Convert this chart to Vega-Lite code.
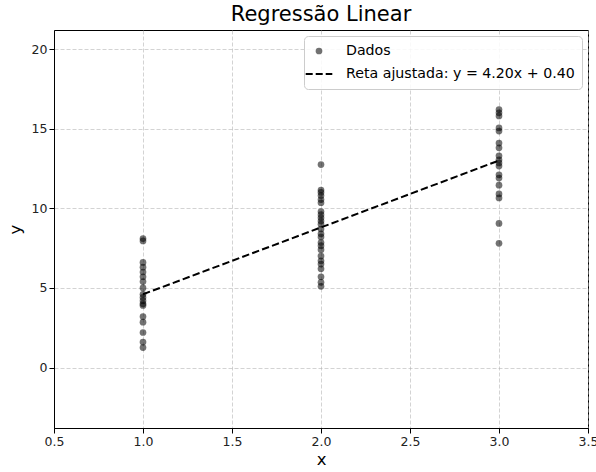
{
  "$schema": "https://vega.github.io/schema/vega-lite/v6.json",
  "autosize": {"type": "none"},
  "width": 534,
  "height": 398,
  "padding": {"left": 54, "top": 30, "right": 8, "bottom": 44},
  "config": {
    "font": "DejaVu Sans",
    "view": {"stroke": "#000000", "strokeWidth": 1},
    "axis": {
      "labelFont": "DejaVu Sans", "labelFontSize": 12.5, "labelColor": "#222",
      "titleFont": "DejaVu Sans", "titleFontSize": 16.5, "titleFontWeight": "normal", "titleColor": "#000",
      "domainColor": "#000", "tickColor": "#000", "tickSize": 5,
      "gridColor": "#b0b0b0", "gridOpacity": 0.7, "gridDash": [4, 2], "gridWidth": 0.8
    }
  },
  "title": {"text": "Regressão Linear", "font": "DejaVu Sans", "fontSize": 21, "fontWeight": "normal", "color": "#000", "offset": 5},
  "layer": [
    {
      "data": {"values": [
        {"x": 1, "y": 8.1, "serie": "Dados"}, {"x": 1, "y": 7.95, "serie": "Dados"},
        {"x": 1, "y": 6.6, "serie": "Dados"}, {"x": 1, "y": 6.3, "serie": "Dados"},
        {"x": 1, "y": 6.0, "serie": "Dados"}, {"x": 1, "y": 5.7, "serie": "Dados"},
        {"x": 1, "y": 5.4, "serie": "Dados"}, {"x": 1, "y": 5.0, "serie": "Dados"},
        {"x": 1, "y": 4.6, "serie": "Dados"}, {"x": 1, "y": 4.4, "serie": "Dados"},
        {"x": 1, "y": 4.2, "serie": "Dados"}, {"x": 1, "y": 4.0, "serie": "Dados"},
        {"x": 1, "y": 3.9, "serie": "Dados"}, {"x": 1, "y": 3.2, "serie": "Dados"},
        {"x": 1, "y": 2.85, "serie": "Dados"}, {"x": 1, "y": 2.2, "serie": "Dados"},
        {"x": 1, "y": 1.6, "serie": "Dados"}, {"x": 1, "y": 1.25, "serie": "Dados"},
        {"x": 2, "y": 12.75, "serie": "Dados"}, {"x": 2, "y": 11.15, "serie": "Dados"},
        {"x": 2, "y": 11.0, "serie": "Dados"}, {"x": 2, "y": 10.8, "serie": "Dados"},
        {"x": 2, "y": 10.55, "serie": "Dados"}, {"x": 2, "y": 10.35, "serie": "Dados"},
        {"x": 2, "y": 9.8, "serie": "Dados"}, {"x": 2, "y": 9.6, "serie": "Dados"},
        {"x": 2, "y": 9.4, "serie": "Dados"}, {"x": 2, "y": 9.2, "serie": "Dados"},
        {"x": 2, "y": 9.0, "serie": "Dados"}, {"x": 2, "y": 8.7, "serie": "Dados"},
        {"x": 2, "y": 8.4, "serie": "Dados"}, {"x": 2, "y": 8.2, "serie": "Dados"},
        {"x": 2, "y": 7.85, "serie": "Dados"}, {"x": 2, "y": 7.65, "serie": "Dados"},
        {"x": 2, "y": 7.4, "serie": "Dados"}, {"x": 2, "y": 7.0, "serie": "Dados"},
        {"x": 2, "y": 6.7, "serie": "Dados"}, {"x": 2, "y": 6.5, "serie": "Dados"},
        {"x": 2, "y": 6.2, "serie": "Dados"}, {"x": 2, "y": 5.7, "serie": "Dados"},
        {"x": 2, "y": 5.35, "serie": "Dados"}, {"x": 2, "y": 5.1, "serie": "Dados"},
        {"x": 3, "y": 16.2, "serie": "Dados"}, {"x": 3, "y": 16.0, "serie": "Dados"},
        {"x": 3, "y": 15.8, "serie": "Dados"}, {"x": 3, "y": 15.05, "serie": "Dados"},
        {"x": 3, "y": 14.85, "serie": "Dados"}, {"x": 3, "y": 14.1, "serie": "Dados"},
        {"x": 3, "y": 13.8, "serie": "Dados"}, {"x": 3, "y": 13.3, "serie": "Dados"},
        {"x": 3, "y": 13.05, "serie": "Dados"}, {"x": 3, "y": 12.85, "serie": "Dados"},
        {"x": 3, "y": 12.65, "serie": "Dados"}, {"x": 3, "y": 12.1, "serie": "Dados"},
        {"x": 3, "y": 11.9, "serie": "Dados"}, {"x": 3, "y": 11.45, "serie": "Dados"},
        {"x": 3, "y": 10.9, "serie": "Dados"}, {"x": 3, "y": 10.65, "serie": "Dados"},
        {"x": 3, "y": 9.05, "serie": "Dados"}, {"x": 3, "y": 7.8, "serie": "Dados"}
      ]},
      "mark": {"type": "point", "filled": true, "color": "#000000", "opacity": 0.55, "size": 45},
      "encoding": {
        "x": {"field": "x", "type": "quantitative", "title": "x",
              "scale": {"domain": [0.5, 3.5], "nice": false, "zero": false},
              "axis": {"values": [0.5, 1.0, 1.5, 2.0, 2.5, 3.0, 3.5], "format": ".1f", "labelFlush": false, "titlePadding": 4}},
        "y": {"field": "y", "type": "quantitative", "title": "y",
              "scale": {"domain": [-3.8, 21.2], "nice": false, "zero": false},
              "axis": {"values": [0, 5, 10, 15, 20], "format": "d", "titlePadding": 8}},
        "shape": {"field": "serie", "type": "nominal",
                  "scale": {"domain": ["Dados", "Reta ajustada: y = 4.20x + 0.40"], "range": ["circle", "M-2.8,0M-1.9,0H1.9"]},
                  "legend": {
                    "title": null, "orient": "top-right", "offset": 6,
                    "labelFont": "DejaVu Sans", "labelFontSize": 14.2, "labelColor": "#000", "labelLimit": 400,
                    "symbolSize": 196, "rowPadding": 7, "padding": 7, "labelOffset": 19,
                    "strokeColor": "#cccccc", "fillColor": "rgba(255,255,255,0.85)", "cornerRadius": 4,
                    "encoding": {"symbols": {
                      "fill": {"value": {"expr": "datum.value === 'Dados' ? '#000000' : 'transparent'"}},
                      "stroke": {"value": {"expr": "datum.value === 'Dados' ? 'transparent' : '#000000'"}},
                      "strokeWidth": {"value": 2},
                      "strokeDash": {"value": {"expr": "datum.value === 'Dados' ? [1, 0] : [7, 3]"}},
                      "opacity": {"value": {"expr": "datum.value === 'Dados' ? 0.55 : 1"}},
                      "size": {"value": {"expr": "datum.value === 'Dados' ? 45 : 196"}}
                    }}
                  }}
      }
    },
    {
      "data": {"values": [{"x": 1, "y": 4.6}, {"x": 3, "y": 13.0}]},
      "mark": {"type": "line", "color": "#000000", "strokeWidth": 2, "strokeDash": [7.4, 3.2]},
      "encoding": {
        "x": {"field": "x", "type": "quantitative"},
        "y": {"field": "y", "type": "quantitative"}
      }
    }
  ]
}
